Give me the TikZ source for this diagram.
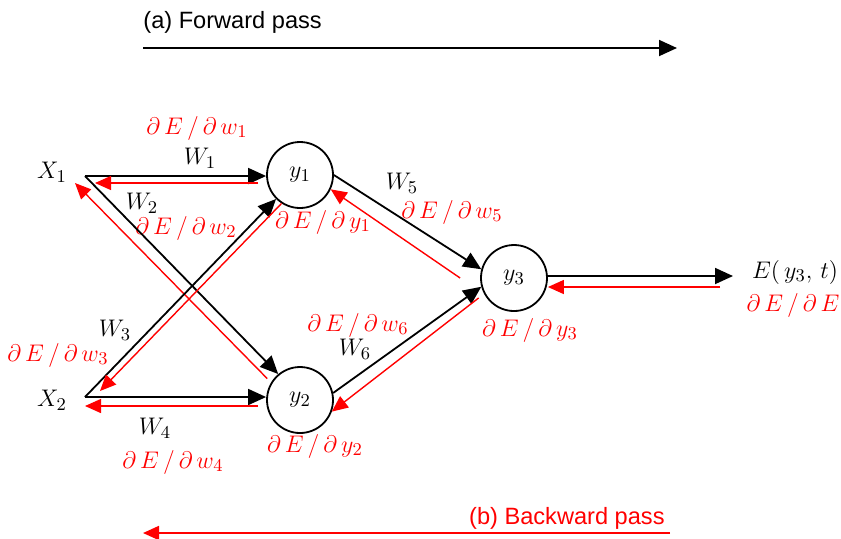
\documentclass[tikz,border=0pt]{standalone}
\usepackage{fontspec}
\newfontfamily\passfont{Liberation Sans}
\usetikzlibrary{arrows.meta,calc}
\newcommand{\pd}[1]{$\partial\,E\,/\,\partial\,#1$}

\begin{document}
\begin{tikzpicture}[x=0.5pt,y=-0.5pt,
  unit/.style={circle,draw,line width=0.9pt,minimum size=33pt,inner sep=0pt},
  fwd/.style={-{Triangle[length=9pt,width=8pt]},line width=0.9pt},
  bwd/.style={-{Triangle[length=8pt,width=7pt]},red,line width=0.7pt},
  lab/.style={font=\fontsize{12.5}{14}\selectfont,inner sep=1pt},
  grad/.style={lab,red},
  pass/.style={font=\passfont\fontsize{11.8}{13}\selectfont,inner sep=0pt}]
  \useasboundingbox (0,0) rectangle (841,538);
  \node (X1) at (52,172) [lab] {$X_1$};
  \node (X2) at (52,400) [lab] {$X_2$};
  \coordinate (x1) at (85,176);
  \coordinate (x2) at (85,397);
  \node (Y1) at (300,175) [unit,lab] {$y_1$};
  \node (Y2) at (300,400) [unit,lab] {$y_2$};
  \node (Y3) at (514,278) [unit,lab] {$y_3$};
  \coordinate (eo) at (733,276);
  \coordinate (ei) at (720,287);
  \node (E) at (795,272) [lab] {$E(\,y_3,\,t)$};
  \node (dE) at (793,305) [grad] {\pd{E}};
  \node (W1) at (200,158) [lab] {$W_1$};
  \node (W2) at (142,203) [lab] {$W_2$};
  \node (W3) at (115,330) [lab] {$W_3$};
  \node (W4) at (155,428) [lab] {$W_4$};
  \node (W5) at (402,183) [lab] {$W_5$};
  \node (W6) at (355,349) [lab] {$W_6$};
  \node (G1) at (197,128) [grad] {\pd{w_1}};
  \node (G2) at (186,228) [grad] {\pd{w_2}};
  \node (G3) at (58,355) [grad] {\pd{w_3}};
  \node (G4) at (173,462) [grad] {\pd{w_4}};
  \node (G5) at (452,212) [grad] {\pd{w_5}};
  \node (G6) at (358,325) [grad] {\pd{w_6}};
  \node (D1) at (323,222) [grad] {\pd{y_1}};
  \node (D2) at (315,446) [grad] {\pd{y_2}};
  \node (D3) at (530,330) [grad] {\pd{y_3}};
  \draw [fwd] (x1) -- (x1 -| Y1.west);
  \draw [bwd] ($(x1 -| Y1.west)+(-8,7)$) -- ($(x1)+(10,7)$);
  \draw [fwd] (x1) -- (Y2.130);
  \draw [bwd] ($(Y2.145)+(-5,-2)$) -- ($(x1)+(-10,7)$);
  \draw [fwd] (x2) -- (Y1.225);
  \draw [bwd] (Y1.237) -- ($(x2)+(15,-6)$);
  \draw [fwd] (x2) -- (x2 -| Y2.west);
  \draw [bwd] ($(x2 -| Y2.west)+(-8,9)$) -- ($(x2)+(0,9)$);
  \draw [fwd] (Y1.east) -- (Y3.165);
  \draw [bwd] ($(Y3.west)+(-20,0)$) -- (Y1.-25);
  \draw [fwd] (Y2.12) -- (Y3.195);
  \draw [bwd] ($(Y3.210)+(-6,3)$) -- (Y2.-20);
  \draw [fwd] (Y3.east |- eo) -- (eo);
  \draw [bwd] (ei) -- (Y3.east |- ei);
  \node (FP) at (143,22) [pass,anchor=west] {(a) Forward pass};
  \coordinate (fa) at (143,48);
  \coordinate (fb) at (677,48);
  \draw [fwd] (fa) -- (fb);
  \node (BP) at (665,518) [pass,red,anchor=east] {(b) Backward pass};
  \coordinate (ba) at (670,533);
  \coordinate (bb) at (143,533);
  \draw [bwd,line width=0.9pt] (ba) -- (bb);
\end{tikzpicture}
\end{document}
